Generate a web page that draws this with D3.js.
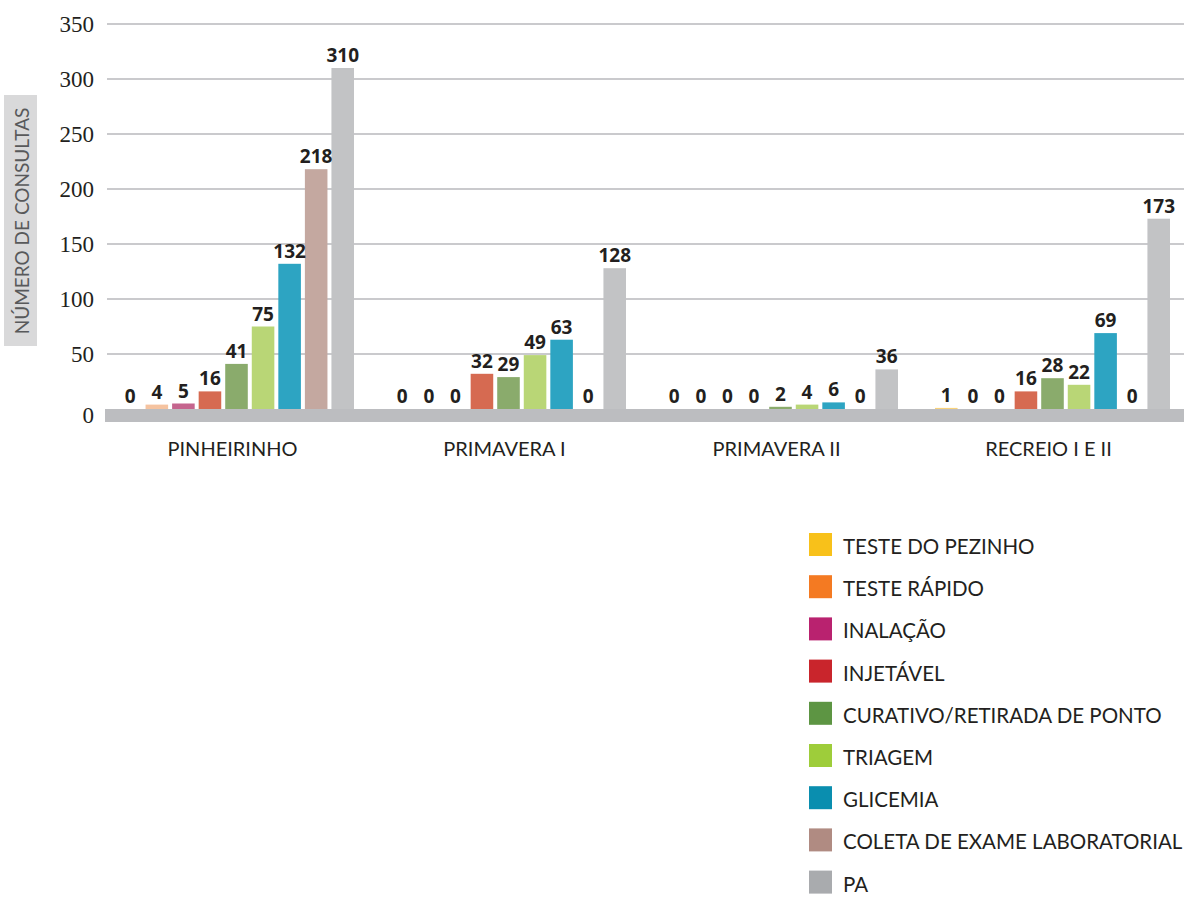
<!DOCTYPE html>
<html>
<head>
  <meta charset="UTF-8">
  <title>Número de consultas</title>
<style>
    body { margin: 0; background: #ffffff; }
    svg { display: block; }
</style>
</head>
<body>
<svg></svg>
<script src="https://d3js.org/d3.v7.min.js"></script>
<script>
    // Data
    var units = ["PINHEIRINHO", "PRIMAVERA I", "PRIMAVERA II", "RECREIO I E II"];
    var procedures = ["TESTE DO PEZINHO", "TESTE RÁPIDO", "INALAÇÃO", "INJETÁVEL",
        "CURATIVO/RETIRADA DE PONTO", "TRIAGEM", "GLICEMIA", "COLETA DE EXAME LABORATORIAL", "PA"];
    var pinheirinho = [0, 4, 5, 16, 41, 75, 132, 218, 310];
    var primavera1 = [0, 0, 0, 32, 29, 49, 63, 0, 128];
    var primavera2 = [0, 0, 0, 0, 2, 4, 6, 0, 36];
    var recreio = [1, 0, 0, 16, 28, 22, 69, 0, 173];
    var yTicks = [0, 50, 100, 150, 200, 250, 300, 350];

    // colours (bars are drawn paler than the legend keys)
    var barColors = ["#f9d27a", "#f5c3a0", "#c5658e", "#d66a51", "#8aab6c", "#b9d676", "#2da4c2", "#c4a8a0", "#c2c3c5"];
    var keyColors = ["#f8c11a", "#f47a22", "#b9226f", "#c9252c", "#5d9543", "#9ecd3a", "#0a8eaf", "#b08b82", "#a9abae"];

    var values = [pinheirinho, primavera1, primavera2, recreio];

    let width = 1184, height = 897;
    let svg = d3.select("svg").attr("width", width).attr("height", height);

    var x0 = d3.scaleBand()
        .domain(units)
        .range([119, 1170])
        .paddingInner(0.136)
        .paddingOuter(0);

    var x1 = d3.scaleBand()
        .domain(procedures)
        .range([0, x0.bandwidth()])
        .paddingInner(0.15);

    var y = d3.scaleLinear()
        .domain([0, 350])
        .range([409, 24]);

    // gridlines
    svg.append("g")
        .selectAll("line")
        .data(yTicks.filter(d => d > 0))
        .enter().append("line")
        .attr("x1", 107)
        .attr("x2", width)
        .attr("y1", d => y(d))
        .attr("y2", d => y(d))
        .style("stroke", "#b8b8bd")
        .style("stroke-width", 1.5);

    // tick labels
    svg.append("g")
        .selectAll("text")
        .data(yTicks)
        .enter().append("text")
        .attr("x", 94)
        .attr("y", d => y(d) + 8 + (d === 0 ? 6 : 0))
        .attr("text-anchor", "end")
        .style("font-family", "'Liberation Serif', serif")
        .style("font-size", "23px")
        .style("fill", "#231f20")
        .text(d => d);

    // bars
    var groups = svg.append("g")
        .selectAll("g")
        .data(units)
        .enter().append("g")
        .attr("transform", d => "translate(" + x0(d) + ",0)");

    groups.selectAll("rect")
        .data((d, i) => values[i].map((v, j) => ({ key: procedures[j], value: v, idx: j })))
        .enter().append("rect")
        .attr("x", d => x1(d.key))
        .attr("y", d => y(d.value))
        .attr("width", x1.bandwidth())
        .attr("height", d => y(0) - y(d.value))
        .style("fill", d => barColors[d.idx]);

    groups.selectAll("text")
        .data((d, i) => values[i].map((v, j) => ({ key: procedures[j], value: v })))
        .enter().append("text")
        .attr("x", d => x1(d.key) + x1.bandwidth() / 2)
        .attr("y", d => y(d.value) - 6)
        .attr("text-anchor", "middle")
        .style("font-family", "'Open Sans', sans-serif")
        .style("font-weight", "bold")
        .style("font-size", "19px")
        .style("fill", "#231f20")
        .text(d => d.value);

    // thick base band
    svg.append("rect")
        .attr("x", 105)
        .attr("y", y(0))
        .attr("width", width - 105)
        .attr("height", 13)
        .style("fill", "#bcbdc0");

    // category labels
    svg.append("g")
        .selectAll("text")
        .data(units)
        .enter().append("text")
        .attr("x", d => x0(d) + x0.bandwidth() / 2 - 4)
        .attr("y", 456)
        .attr("text-anchor", "middle")
        .style("font-family", "Lato, sans-serif")
        .style("font-size", "20px")
        .style("fill", "#231f20")
        .text(d => d);

    // y axis title
    svg.append("rect")
        .attr("x", 4)
        .attr("y", 95)
        .attr("width", 33)
        .attr("height", 251)
        .style("fill", "#d9d9da");

    svg.append("text")
        .attr("transform", "translate(21,221) rotate(-90)")
        .attr("text-anchor", "middle")
        .attr("dominant-baseline", "central")
        .style("font-family", "Lato, sans-serif")
        .style("font-size", "19px")
        .style("fill", "#58595b")
        .text("NÚMERO DE CONSULTAS");

    // Legend
    var legend = svg.append("g")
        .selectAll("g")
        .data(procedures)
        .enter().append("g")
        .attr("transform", (d, i) => "translate(809," + (533 + i * 42.2) + ")");

    legend.append("rect")
        .attr("width", 23)
        .attr("height", 23)
        .style("fill", (d, i) => keyColors[i]);

    legend.append("text")
        .attr("x", 34)
        .attr("y", 21)
        .style("font-family", "Lato, sans-serif")
        .style("font-size", "20.5px")
        .style("fill", "#231f20")
        .text(d => d);
</script>
</body>
</html>
